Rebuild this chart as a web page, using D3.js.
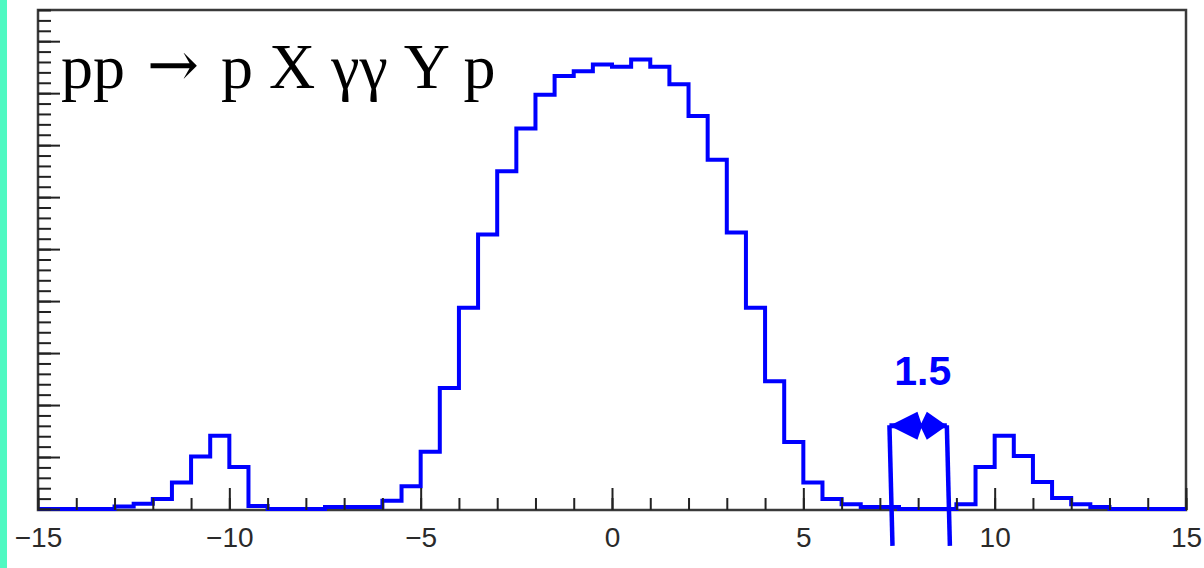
<!DOCTYPE html>
<html>
<head>
<meta charset="utf-8">
<script src="https://cdn.jsdelivr.net/npm/d3@7"></script>
<style>
  body { margin: 0; background: #fff; }
  svg { display: block; }
</style>
</head>
<body>
<svg id="chart" width="1204" height="568"></svg>
<script>
// histogram: 60 bins of width 0.5 from -15 to 15
var binLow = d3.range(60).map(function(i) { return -15 + i * 0.5; });
var counts = [
  0, 0, 0, 0,
  5, 10, 19, 51, 101, 141, 81, 6,
  0, 0, 0,
  4, 4, 4,
  16, 44, 110, 233, 387, 528, 650, 732, 797, 833, 842, 855,
  851, 865, 851, 817, 756, 672, 532, 387, 246, 129,
  51, 19, 9, 4, 4,
  0, 0, 0,
  9, 81, 141, 102, 52, 21, 9, 4,
  0, 0, 0, 0
];
var xMajor = [-15, -10, -5, 0, 5, 10, 15];
var xMinor = d3.range(-15, 16, 1);
var yMajor = d3.range(0, 901, 100);
var yMinor = d3.range(0, 961, 20);

var titleParts = ["pp ", "\u2192", " p X \u03b3\u03b3 Y p"];
var widthLabel = "1.5";
// annotation: two slanted lines and a double arrow between them (data units)
var markLines = [
  { x1: 7.25, y1: 161, x2: 7.33, y2: -71 },
  { x1: 8.75, y1: 161, x2: 8.83, y2: -71 }
];
var arrowY = 160;
var labelPos = { x: 8.12, y: 238 };

var svg = d3.select("#chart");

var x = d3.scaleLinear().domain([-15, 15]).range([38, 1186]);
var y = d3.scaleLinear().domain([0, 960]).range([509, 10]);

// teal strip on the left edge
svg.append("rect")
  .attr("x", 0).attr("y", 0)
  .attr("width", 7).attr("height", 568)
  .attr("fill", "#4ff9c2");

// frame
svg.append("rect")
  .attr("x", 38).attr("y", 10)
  .attr("width", 1148).attr("height", 500)
  .attr("fill", "none")
  .attr("stroke", "#3a3a3a")
  .attr("stroke-width", 2.5);

// histogram outline
var pts = [];
binLow.forEach(function(lo, i) {
  pts.push([x(lo), y(counts[i])]);
  pts.push([x(lo + 0.5), y(counts[i])]);
});
svg.append("path")
  .attr("d", d3.line()(pts))
  .attr("fill", "none")
  .attr("stroke", "#0000ff")
  .attr("stroke-width", 4)
  .attr("stroke-linejoin", "miter");

// x axis ticks (inside)
svg.append("g").attr("transform", "translate(0,510)")
  .call(d3.axisBottom(x).tickValues(xMinor).tickSize(-12).tickFormat(""));
var gx = svg.append("g").attr("transform", "translate(0,510)")
  .call(d3.axisBottom(x).tickValues(xMajor).tickSize(-22));
gx.selectAll("text")
  .attr("y", 37).attr("dy", null)
  .attr("font-family", "Liberation Sans, Arial, sans-serif")
  .attr("font-size", 28)
  .attr("fill", "#2a2a2a");

// y axis ticks (inside, no labels)
svg.append("g").attr("transform", "translate(38,0)")
  .call(d3.axisRight(y).tickValues(yMinor).tickSize(13).tickFormat(""));
svg.append("g").attr("transform", "translate(38,0)")
  .call(d3.axisRight(y).tickValues(yMajor).tickSize(22).tickFormat(""));
svg.selectAll(".domain").remove();
svg.selectAll(".tick line").attr("stroke", "#222").attr("stroke-width", 2);

// title
var title = svg.append("text")
  .attr("x", 61).attr("y", 88)
  .attr("font-family", "Liberation Serif, Times New Roman, serif")
  .attr("font-size", 64)
  .attr("fill", "#000");
title.append("tspan").text(titleParts[0]);
title.append("tspan")
  .attr("font-family", "DejaVu Serif, serif")
  .attr("font-size", 62)
  .attr("dx", 6)
  .attr("dy", -2)
  .text(titleParts[1]);
title.append("tspan").attr("dx", 6).attr("dy", 2).text(titleParts[2]);

// annotation lines
svg.selectAll(".mark")
  .data(markLines)
  .enter().append("line")
  .attr("class", "mark")
  .attr("x1", function(d) { return x(d.x1); })
  .attr("y1", function(d) { return y(d.y1); })
  .attr("x2", function(d) { return x(d.x2); })
  .attr("y2", function(d) { return y(d.y2); })
  .attr("stroke", "#0000ff")
  .attr("stroke-width", 4.5);

// double arrow
var ax1 = x(markLines[0].x1), ax2 = x(markLines[1].x1), ay = y(arrowY);
var mid = (ax1 + ax2) / 2 + 3;
var headLen = 28, headHalf = 14;
svg.append("line")
  .attr("x1", ax1).attr("y1", ay).attr("x2", ax2).attr("y2", ay)
  .attr("stroke", "#0000ff").attr("stroke-width", 5);
svg.append("path")
  .attr("d", "M" + ax1 + "," + ay +
    "L" + (ax1 + headLen) + "," + (ay - headHalf) +
    "L" + (mid + 1) + "," + ay +
    "L" + (ax1 + headLen) + "," + (ay + headHalf) + "Z")
  .attr("fill", "#0000ff");
svg.append("path")
  .attr("d", "M" + ax2 + "," + ay +
    "L" + (ax2 - headLen + 8) + "," + (ay - headHalf) +
    "L" + (mid - 1) + "," + ay +
    "L" + (ax2 - headLen + 8) + "," + (ay + headHalf) + "Z")
  .attr("fill", "#0000ff");

svg.append("text")
  .attr("x", x(labelPos.x)).attr("y", y(labelPos.y))
  .attr("text-anchor", "middle")
  .attr("font-family", "Liberation Sans, Arial, sans-serif")
  .attr("font-weight", "bold")
  .attr("font-size", 41)
  .attr("fill", "#0000ff")
  .text(widthLabel);
</script>
</body>
</html>
